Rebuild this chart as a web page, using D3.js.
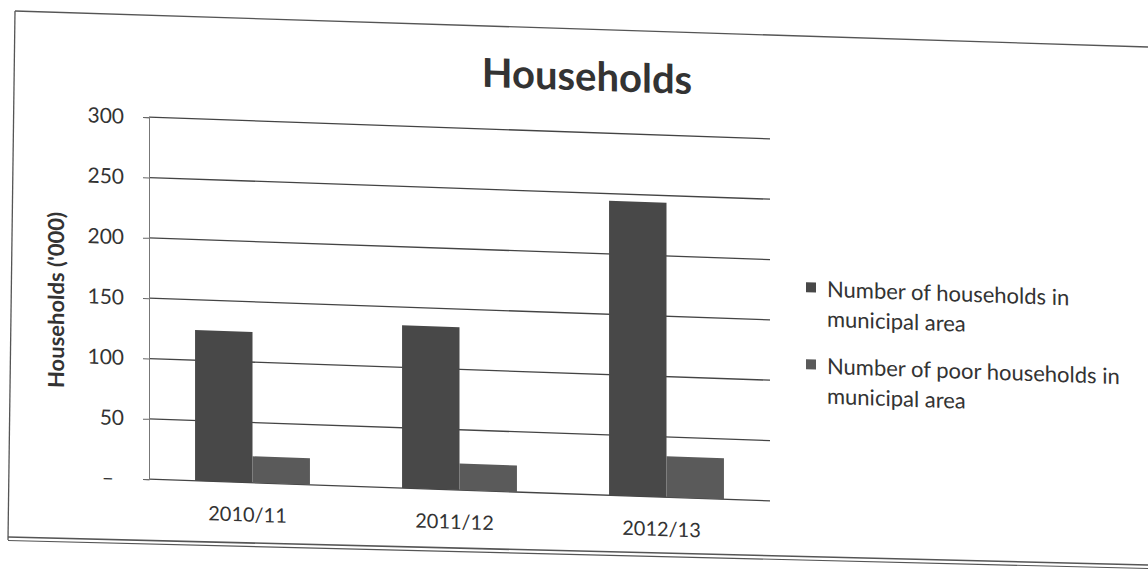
<!DOCTYPE html>
<html>
<head>
<meta charset="utf-8">
<script src="https://cdn.jsdelivr.net/npm/d3@7"></script>
<style>
  body { margin: 0; background: #fff; }
  text { font-family: Lato, "Open Sans", sans-serif; fill: #333; }
</style>
</head>
<body>
<svg id="chart" width="1148" height="573"></svg>
<script>
// Chart data
const categories = ["2010/11", "2011/12", "2012/13"];
const seriesNames = ["Number of households in municipal area", "Number of poor households in municipal area"];
const totalHouseholds = [125, 135, 244];
const poorHouseholds = [22, 22, 34];
const yTicks = [0, 50, 100, 150, 200, 250, 300];

const barColors = ["#484848", "#5a5a5a"];
const legendLines = [["Number of households in", "municipal area"], ["Number of poor households in", "municipal area"]];

const svg = d3.select("#chart");

// Scanned page frame (slightly tilted)
const frame = svg.append("g").attr("stroke", "#555").attr("fill", "none");
frame.append("path").attr("d", "M15,11 L1148,47").attr("stroke-width", 1.3);
frame.append("path").attr("d", "M15,11 L8,540").attr("stroke-width", 1.3);
frame.append("path").attr("d", "M8,537 L1148,565").attr("stroke-width", 1.6);
frame.append("path").attr("d", "M8,540.5 L1148,568.5").attr("stroke-width", 1.2);

// Whole chart is skewed a little like the scan
const g = svg.append("g").attr("transform", "skewY(2)");

const x0 = d3.scaleBand()
    .domain(categories)
    .range([149, 770])
    .paddingInner(0.445)
    .paddingOuter(0.2225);

const x1 = d3.scaleBand()
    .domain([0, 1])
    .range([0, x0.bandwidth()]);

const y = d3.scaleLinear()
    .domain([0, 300])
    .range([474, 112]);

// Gridlines
g.append("g")
    .selectAll("line")
    .data(yTicks)
    .enter().append("line")
    .attr("x1", 149)
    .attr("x2", 770)
    .attr("y1", d => y(d))
    .attr("y2", d => y(d))
    .attr("stroke", "#444")
    .attr("stroke-width", 1.3);

// Y axis
const yAxis = g.append("g")
    .attr("transform", "translate(149,0)")
    .call(d3.axisLeft(y).tickValues(yTicks).tickSize(6).tickPadding(19)
        .tickFormat(d => d === 0 ? "\u2013" : d));
yAxis.select(".domain").attr("stroke", "#777");
yAxis.selectAll(".tick line").attr("stroke", "#666");
yAxis.selectAll(".tick text")
    .style("font-size", "21px")
    .attr("fill", "#333")
    .attr("dx", d => d === 0 ? -10 : 0);

// Bars
const groups = g.append("g")
    .selectAll("g")
    .data(categories)
    .enter().append("g")
    .attr("transform", d => `translate(${x0(d)},0)`);

groups.selectAll("rect")
    .data((d, i) => [totalHouseholds[i], poorHouseholds[i]])
    .enter().append("rect")
    .attr("x", (d, i) => x1(i))
    .attr("width", x1.bandwidth())
    .attr("y", d => y(d))
    .attr("height", d => y(0) - y(d))
    .attr("fill", (d, i) => barColors[i]);

// Category labels
g.append("g")
    .selectAll("text")
    .data(categories)
    .enter().append("text")
    .attr("x", d => x0(d) + x0.bandwidth() / 2 - 5)
    .attr("y", 513)
    .attr("text-anchor", "middle")
    .style("font-size", "20px")
    .text(d => d);

// Title
g.append("text")
    .attr("x", 587)
    .attr("y", 70)
    .attr("text-anchor", "middle")
    .style("font-size", "40px")
    .style("font-weight", "bold")
    .text("Households");

// Y axis title
g.append("text")
    .attr("transform", "translate(64,298) rotate(-90)")
    .attr("text-anchor", "middle")
    .style("font-size", "22px")
    .style("font-weight", "bold")
    .text("Households ('000)");

// Legend
const legend = g.append("g")
    .selectAll("g")
    .data(seriesNames)
    .enter().append("g")
    .attr("transform", (d, i) => `translate(806,${259 + i * 77})`);

legend.append("rect")
    .attr("x", 0)
    .attr("y", -5)
    .attr("width", 10)
    .attr("height", 10)
    .attr("fill", (d, i) => barColors[i]);

legend.append("text")
    .selectAll("tspan")
    .data((d, i) => legendLines[i])
    .enter().append("tspan")
    .attr("x", 21)
    .attr("y", (d, j) => 9 + j * 30)
    .style("font-size", "22px")
    .text(d => d);
</script>
</body>
</html>
